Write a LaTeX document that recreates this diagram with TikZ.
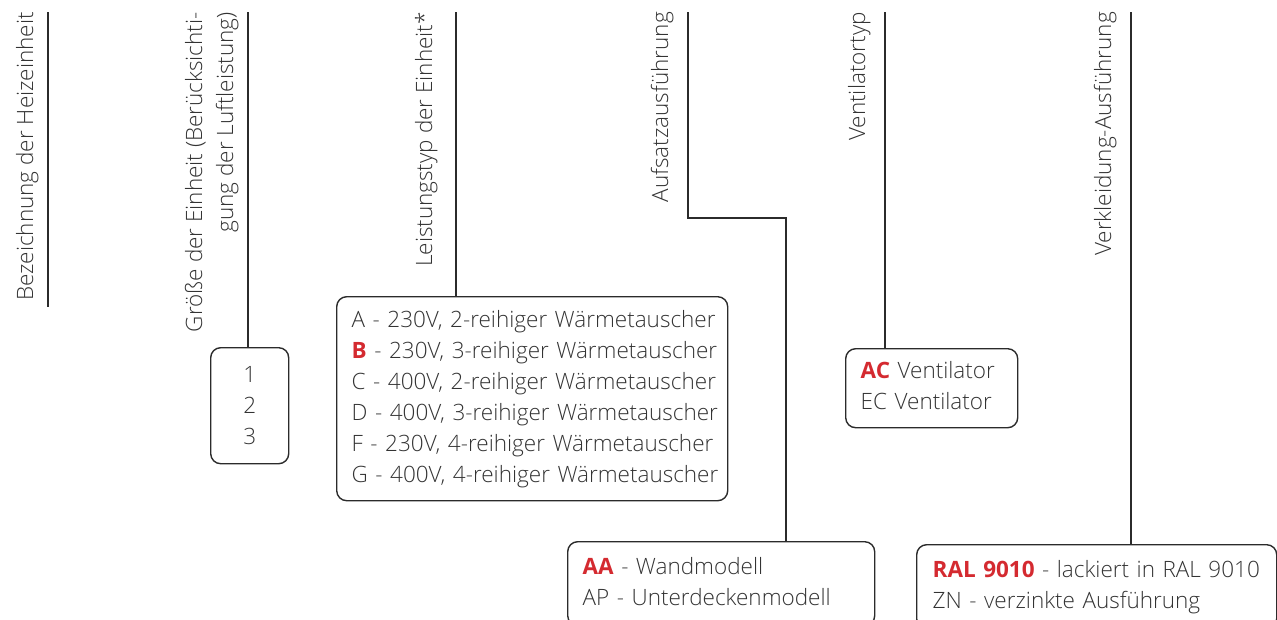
\documentclass[tikz,border=0pt]{standalone}
\usepackage{fontspec}
\setmainfont{Open Sans}[UprightFont={* Light}, BoldFont={* Bold}]
\definecolor{ink}{HTML}{333333}
\definecolor{rule}{HTML}{2B2B2B}
\definecolor{accent}{HTML}{D42A30}
\newcommand{\hl}[1]{\textcolor{accent}{\textbf{#1}}}
\newenvironment{lines}{\begin{tabular}{@{}l@{}}}{\end{tabular}}
\tikzset{
  label/.style={rotate=90, anchor=base east, inner sep=0pt, text=ink,
    font=\fontsize{22.5}{31}\selectfont},
  choice/.style={draw=rule, line width=1.4pt, rounded corners=10pt, text=ink,
    font=\fontsize{22.5}{31}\selectfont, align=left, anchor=north west},
  lead/.style={draw=rule, line width=1.4pt}
}
\begin{document}
\begin{tikzpicture}[x=1pt, y=-1pt]
\useasboundingbox (0,0) rectangle (1277,619);
\clip (0,0) rectangle (1277,619);

% headings, set vertically
\node[label] (h1) at (33,12) {Bezeichnung der Heizeinheit};
\node[label] (h2a) at (202,12) {Größe der Einheit (Berücksichti-};
\node[label] (h2b) at (233,12) {gung der Luftleistung)};
\node[label] (h3) at (432,12) {Leistungstyp der Einheit*};
\node[label] (h4) at (668,12) {Aufsatzausführung};
\node[label] (h5) at (865,12) {Ventilatortyp};
\node[label] (h6) at (1111,12) {Verkleidung-Ausführung};

% option boxes
\node[choice, align=center, minimum width=78pt, minimum height=116pt, text width=48pt, inner xsep=15pt]
  (b2) at (210,347) {1\\2\\3};
\node[choice, minimum width=391pt, minimum height=204pt, text width=361pt, inner xsep=15pt]
  (b3) at (336,296) {\begin{lines}
  A - 230V, 2-reihiger Wärmetauscher\\
  \hl{B} - 230V, 3-reihiger Wärmetauscher\\
  C - 400V, 2-reihiger Wärmetauscher\\
  D - 400V, 3-reihiger Wärmetauscher\\
  F - 230V, 4-reihiger Wärmetauscher\\
  G - 400V, 4-reihiger Wärmetauscher
  \end{lines}};
\node[choice, minimum width=307pt, minimum height=84pt, text width=277pt, inner xsep=15pt]
  (b4) at (567,541) {\begin{lines}\hl{AA} - Wandmodell\\AP - Unterdeckenmodell\end{lines}};
\node[choice, minimum width=172pt, minimum height=79pt, text width=142pt, inner xsep=15pt]
  (b5) at (845,348) {\begin{lines}\hl{AC} Ventilator\\EC Ventilator\end{lines}};
\node[choice, minimum width=360pt, minimum height=84pt, text width=328pt, inner xsep=16pt]
  (b6) at (916,544) {\begin{lines}\hl{RAL 9010} - lackiert in RAL 9010\\ZN - verzinkte Ausführung\end{lines}};

% leader lines
\coordinate (t1) at (48,12);
\coordinate (e1) at (48,307);
\coordinate (t2) at (248,12);
\coordinate (t3) at (456,12);
\coordinate (t4) at (688,12);
\coordinate (k4) at (786,218);
\coordinate (t5) at (885,12);
\coordinate (t6) at (1131,12);

\draw[lead] (t1) -- (e1);
\draw[lead] (t2) -- (t2 |- b2.north);
\draw[lead] (t3) -- (t3 |- b3.north);
\draw[lead] (t4) |- (k4) -- (k4 |- b4.north);
\draw[lead] (t5) -- (t5 |- b5.north);
\draw[lead] (t6) -- (t6 |- b6.north);
\end{tikzpicture}
\end{document}
